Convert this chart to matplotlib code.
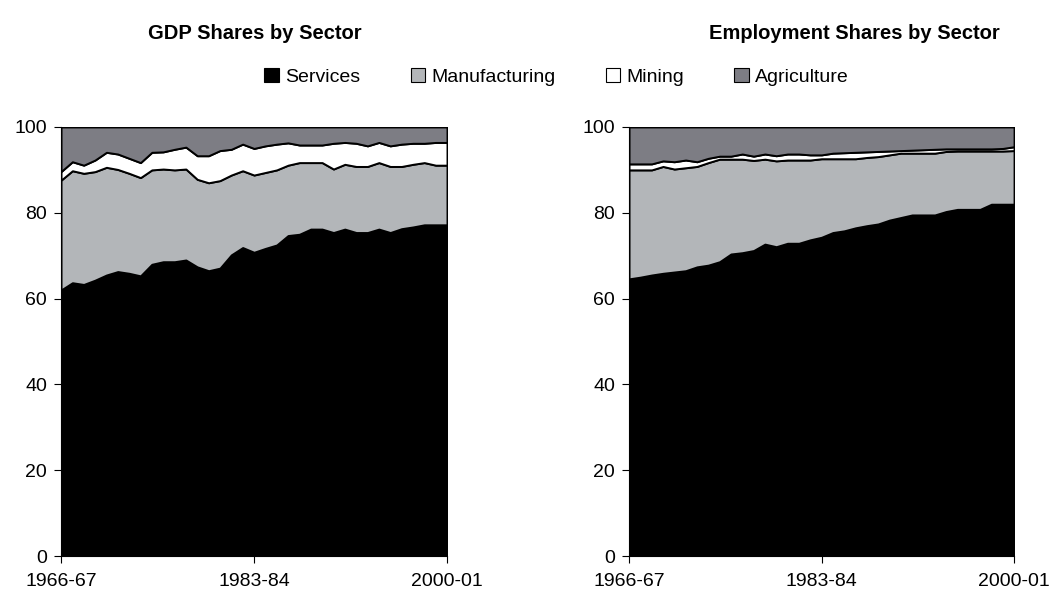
import matplotlib.pyplot as plt
from matplotlib.patches import Patch

plt.rcParams['font.family'] = ['Liberation Sans', 'DejaVu Sans']

# Years 1966-67 .. 2000-01
years = list(range(1966, 2001))
tick_labels = ["1966-67", "1983-84", "2000-01"]
sectors = ["Services", "Manufacturing", "Mining", "Agriculture"]
colors = ["#000000", "#b3b6b9", "#ffffff", "#7d7d84"]

# GDP shares (%)
gdp_services = [62.0, 63.7, 63.3, 64.3, 65.5, 66.3, 65.9, 65.3, 68.0, 68.6, 68.6, 69.0, 67.4, 66.5, 67.1,
                70.2, 71.9, 70.8, 71.7, 72.5, 74.7, 75.0, 76.2, 76.2, 75.4, 76.2, 75.4, 75.4, 76.2, 75.4,
                76.3, 76.7, 77.2, 77.2, 77.2]
gdp_manufacturing = [25.6, 26.1, 25.9, 25.3, 25.1, 23.8, 23.3, 22.9, 22.0, 21.6, 21.4, 21.2, 20.4, 20.5, 20.4,
                     18.6, 17.9, 18.0, 17.7, 17.5, 16.4, 16.7, 15.5, 15.5, 14.8, 15.1, 15.4, 15.4, 15.5, 15.4,
                     14.5, 14.6, 14.5, 13.9, 13.9]
gdp_mining = [2.0, 2.1, 1.9, 2.7, 3.5, 3.6, 3.5, 3.5, 4.1, 4.0, 4.8, 5.1, 5.5, 6.3, 7.0,
              6.0, 6.2, 6.2, 6.2, 6.0, 5.2, 4.1, 4.1, 4.1, 6.0, 5.1, 5.4, 4.8, 4.7, 4.8,
              5.2, 4.9, 4.5, 5.3, 5.3]
gdp_agriculture = [10.4, 8.1, 8.9, 7.7, 5.9, 6.3, 7.3, 8.3, 5.9, 5.8, 5.2, 4.7, 6.7, 6.7, 5.5,
                   5.2, 4.0, 5.0, 4.4, 4.0, 3.7, 4.2, 4.2, 4.2, 3.8, 3.6, 3.8, 4.4, 3.6, 4.4,
                   4.0, 3.8, 3.8, 3.6, 3.6]

# Employment shares (%)
emp_services = [64.6, 65.0, 65.5, 65.9, 66.2, 66.5, 67.4, 67.8, 68.6, 70.4, 70.7, 71.2, 72.7, 72.1, 72.9,
                72.9, 73.7, 74.3, 75.4, 75.8, 76.5, 77.0, 77.4, 78.3, 78.9, 79.5, 79.5, 79.5, 80.3, 80.8,
                80.8, 80.8, 82.0, 82.0, 82.0]
emp_manufacturing = [25.4, 25.0, 24.5, 24.9, 24.0, 24.0, 23.4, 23.9, 23.9, 22.1, 21.8, 21.0, 19.8, 20.0, 19.4,
                     19.4, 18.6, 18.3, 17.2, 16.8, 16.1, 15.9, 15.7, 15.2, 15.0, 14.4, 14.4, 14.4, 14.0, 13.6,
                     13.6, 13.6, 12.4, 12.4, 12.5]
emp_mining = [1.4, 1.4, 1.4, 1.3, 1.7, 1.8, 1.1, 1.0, 0.7, 0.7, 1.2, 1.0, 1.2, 1.2, 1.4,
              1.4, 1.2, 0.9, 1.3, 1.4, 1.5, 1.3, 1.2, 0.9, 0.6, 0.7, 0.8, 0.9, 0.6, 0.5,
              0.5, 0.5, 0.5, 0.6, 0.9]
emp_agriculture = [8.6, 8.6, 8.6, 7.9, 8.1, 7.7, 8.1, 7.3, 6.8, 6.8, 6.3, 6.8, 6.3, 6.7, 6.3,
                   6.3, 6.5, 6.5, 6.1, 6.0, 5.9, 5.8, 5.7, 5.6, 5.5, 5.4, 5.3, 5.2, 5.1, 5.1,
                   5.1, 5.1, 5.1, 5.0, 4.6]

fig = plt.figure(figsize=(10.54, 5.92), dpi=100)
ax1 = fig.add_axes([0.0579, 0.0608, 0.3662, 0.7247])
ax2 = fig.add_axes([0.5968, 0.0608, 0.3653, 0.7247])

panels = [(ax1, [gdp_services, gdp_manufacturing, gdp_mining, gdp_agriculture]),
          (ax2, [emp_services, emp_manufacturing, emp_mining, emp_agriculture])]

for ax, series in panels:
    ax.stackplot(years, *series, colors=colors, edgecolor="black", linewidth=1.4)
    ax.set_xlim(years[0], years[-1])
    ax.set_ylim(0, 100)
    ax.set_yticks([0, 20, 40, 60, 80, 100])
    ax.set_xticks([1966, 1983, 2000])
    ax.set_xticklabels(tick_labels)
    ax.tick_params(labelsize=14, direction="out", length=5, width=0.8, pad=7)
    ax.tick_params(axis="y", pad=5)
    for s in ["top", "right"]:
        ax.spines[s].set_visible(False)
    for s in ["left", "bottom"]:
        ax.spines[s].set_linewidth(0.8)

fig.text(0.242, 0.943, "GDP Shares by Sector", ha="center", va="center", fontsize=14.5, fontweight="bold")
fig.text(0.811, 0.943, "Employment Shares by Sector", ha="center", va="center", fontsize=14.5, fontweight="bold")

handles = [Patch(facecolor=c, edgecolor="black", linewidth=0.8) for c in colors]
fig.legend(handles, sectors, loc="center", bbox_to_anchor=(0.528, 0.87), ncol=4, frameon=False,
           fontsize=14, handlelength=0.75, handleheight=0.75, handletextpad=0.3, columnspacing=2.6)

fig.savefig("out.png", dpi=100)
